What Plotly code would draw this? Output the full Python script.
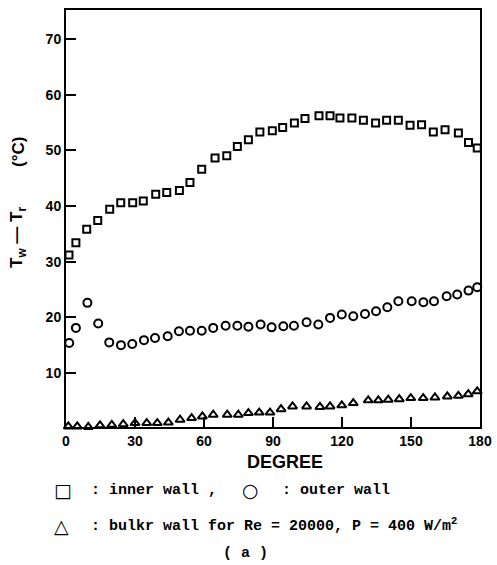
import plotly.graph_objects as go

# ---- data ----
inner_deg = [1.3, 4.3, 9, 13.8, 19, 23.8, 29, 33.6, 39, 43.8, 49.3, 53.9, 59, 64.8, 69.9, 74.5,
             79.3, 84.3, 89.7, 94.2, 99.3, 103.9, 110, 114.8, 119.1, 124.3, 129.3, 134.6,
             139.4, 144.5, 149.6, 154.6, 159.7, 164.8, 170.6, 175, 178.8]
inner_val = [31.2, 33.4, 35.8, 37.4, 39.4, 40.6, 40.6, 40.9, 42.1, 42.4, 42.8, 44.2, 46.6, 48.6,
             49.0, 50.7, 51.9, 53.3, 53.5, 54.1, 54.9, 55.7, 56.2, 56.2, 55.8, 55.8, 55.4, 54.9,
             55.4, 55.4, 54.5, 54.6, 53.3, 53.7, 53.1, 51.4, 50.4]

outer_deg = [1.4, 4.3, 9.3, 14, 18.8, 23.9, 28.8, 33.9, 38.7, 44.2, 49.1, 53.9, 59, 64, 69.4,
             74.5, 79.3, 84.6, 89.4, 94.5, 99.1, 104.6, 109.7, 114.8, 119.9, 124.9, 130, 134.8,
             139.7, 144.5, 150.3, 155.4, 160, 165.5, 170.1, 175, 178.8]
outer_val = [15.4, 18.1, 22.6, 18.9, 15.5, 15.0, 15.2, 15.9, 16.3, 16.6, 17.5, 17.6, 17.6, 18.1,
             18.5, 18.5, 18.3, 18.7, 18.2, 18.4, 18.5, 19.1, 18.7, 19.9, 20.5, 20.2, 20.6, 21.1,
             21.8, 22.9, 22.9, 22.7, 22.9, 23.8, 24.1, 24.8, 25.4]

bulk_deg = [1, 4.9, 9.7, 14.8, 19.9, 24.9, 30, 35.1, 39.7, 44.5, 49.6, 54.6, 59.3, 64, 70.1,
            74.9, 79.3, 84, 88.7, 93.5, 98.5, 104.6, 110.4, 114.8, 119.9, 124.9, 131.4, 135.8,
            140.1, 144.9, 149.9, 155.3, 160.4, 165.8, 170.6, 174.9, 178.8]
bulk_val = [0.4, 0.4, 0.3, 0.6, 0.7, 0.8, 1.0, 1.0, 1.0, 1.1, 1.6, 1.9, 2.2, 2.5, 2.5, 2.5, 2.8,
            2.9, 2.9, 3.5, 4.0, 4.0, 3.9, 4.0, 4.2, 4.6, 5.1, 5.1, 5.2, 5.3, 5.5, 5.5, 5.6, 5.8,
            5.9, 6.2, 6.7]

x_ticks = [0, 30, 60, 90, 120, 150, 180]
y_ticks = [10, 20, 30, 40, 50, 60, 70]

W, H = 497, 565
# plot area in window pixels
X0, X1, Y0, Y1 = 66, 480, 10, 427
L, R, T, B = X0, W - X1, Y0, H - Y1
PW, PH = X1 - X0, Y1 - Y0


def px(xp):
    return (xp - X0) / PW


def py(yp):
    return (Y1 - yp) / PH


fig = go.Figure()
common = dict(mode="markers", cliponaxis=False, showlegend=False)
fig.add_trace(go.Scatter(x=inner_deg, y=inner_val, marker=dict(symbol="square-open", size=7,
                         color="black", line=dict(width=2)), **common))
fig.add_trace(go.Scatter(x=outer_deg, y=outer_val, marker=dict(symbol="circle-open", size=8,
                         color="black", line=dict(width=2)), **common))
fig.add_trace(go.Scatter(x=bulk_deg, y=bulk_val, marker=dict(symbol="triangle-up-open", size=8,
                         color="black", line=dict(width=2)), **common))

tickfont = dict(family="Liberation Sans", size=14, color="black", weight="bold")
fig.update_xaxes(range=[0, 180], tickvals=x_ticks, ticktext=[str(v) for v in x_ticks],
                 ticks="inside", ticklen=10, tickwidth=2, tickcolor="black",
                 showline=True, linewidth=2, linecolor="black", mirror=True,
                 showgrid=False, zeroline=False, tickfont=tickfont, ticklabeloverflow="allow")
fig.update_yaxes(range=[0.3, 75.2], tickvals=y_ticks, ticktext=[str(v) for v in y_ticks],
                 ticks="inside", ticklen=10, tickwidth=2, tickcolor="black",
                 showline=True, linewidth=2, linecolor="black", mirror=True,
                 showgrid=False, zeroline=False, tickfont=tickfont)

mono = dict(family="Liberation Mono", size=15, color="black", weight="bold")
sym = dict(family="DejaVu Sans", size=19, color="black")
title_font = dict(family="Liberation Sans", size=17, color="black", weight="bold")
ann = []
# axis titles
ann.append(dict(x=px(285), y=py(462), text="DEGREE", xanchor="center", yanchor="middle",
                font=dict(family="Liberation Sans", size=18, color="black", weight="bold")))
ann.append(dict(x=px(18), y=py(238), text="T<sub>w</sub> — T<sub>r</sub>", textangle=-90,
                xanchor="center", yanchor="middle", font=title_font))
ann.append(dict(x=px(18), y=py(152), text="(°C)", textangle=-90,
                xanchor="center", yanchor="middle", font=title_font))
# legend text
ann.append(dict(x=px(52), y=py(490), text="□", xanchor="left", yanchor="middle", font=sym))
ann.append(dict(x=px(89), y=py(490), text=": inner wall ,", xanchor="left", yanchor="middle", font=mono))
ann.append(dict(x=px(240), y=py(490), text="○", xanchor="left", yanchor="middle", font=sym))
ann.append(dict(x=px(280), y=py(490), text=": outer wall", xanchor="left", yanchor="middle", font=mono))
ann.append(dict(x=px(52), y=py(526), text="△", xanchor="left", yanchor="middle", font=sym))
ann.append(dict(x=px(89), y=py(525), text=": bulkr wall for Re = 20000, P = 400 W/m<sup>2</sup>",
                xanchor="left", yanchor="middle", font=mono))
ann.append(dict(x=px(245), y=py(553), text="( a )", xanchor="center", yanchor="middle", font=mono))
for a in ann:
    a.update(xref="paper", yref="paper", showarrow=False)

fig.update_layout(width=W, height=H, margin=dict(l=L, r=R, t=T, b=B, autoexpand=False),
                  paper_bgcolor="white", plot_bgcolor="white", annotations=ann)

# remove the page's default 8px body margin so the figure fills the window exactly
fig.write_html("out.html", config={"displayModeBar": False},
               post_script="document.body.style.margin='0';document.body.style.overflow='hidden';")
